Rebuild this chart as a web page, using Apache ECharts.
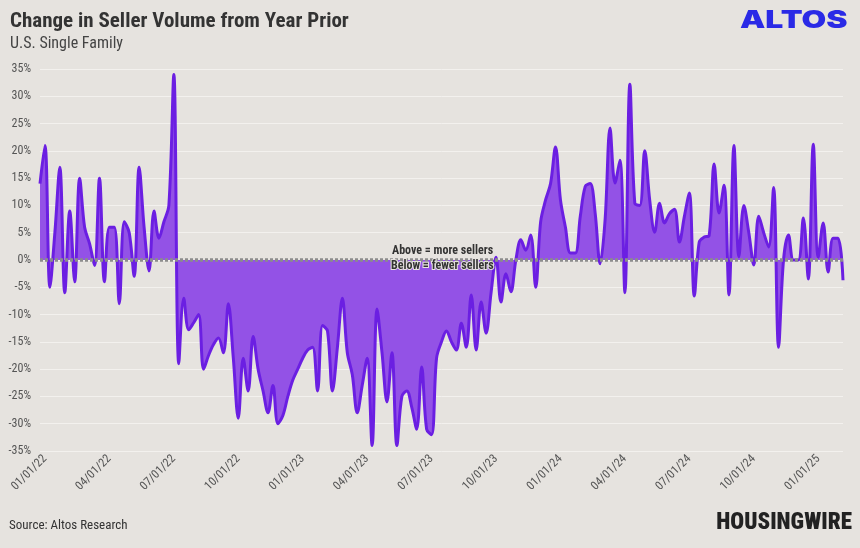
<!DOCTYPE html>
<html>
<head>
<meta charset="utf-8">
<script src="https://cdn.jsdelivr.net/npm/echarts@6/dist/echarts.min.js"></script>
<style>
html,body{margin:0;padding:0;background:#e6e3df;}
#c{width:860px;height:548px;}
</style>
</head>
<body>
<div id="c"></div>
<script>
// Weekly change in seller volume vs year prior (%), first week ending 12/25/21
const startDate = '2021-12-25';
const values = [
  14, 21, -5, 5, 17, -6, 9, -4, 15, 6,
  3, -1, 15, -4, 6, 6, -8, 7, 5, -3,
  17, 6, -2, 9, 4, 7, 10, 34, -19, -7,
  -12.8, -11.5, -10, -20, -17.5, -15.5, -14.3, -17, -8, -18,
  -29, -18, -24, -14, -20, -24, -28, -23, -30, -28.5,
  -25, -22, -20, -18, -16.5, -16, -24, -12, -13, -24,
  -16, -7, -17, -21, -28, -23, -18, -34, -9, -17,
  -26, -17, -34, -25, -24, -27, -31, -19.6, -31, -32,
  -18, -15, -13, -15, -16.5, -11.6, -16, -6.4, -16.5, -7.7,
  -13.4, -6, 0.5, -7.7, -2.5, -5.8, 0, 3.7, 1.8, 4.6,
  -5, 7, 11, 14, 20.7, 11, 6, 1.3, 1.3, 8,
  13.5, 14, 8.6, -0.7, 7.3, 24.2, 14.1, 18.3, -6, 32.2,
  10.4, 10, 20, 11, 5.1, 10.4, 6.8, 8.5, 9.3, 3.3,
  8, 12.3, -6.6, 3.3, 4.2, 4.5, 17.6, 8.6, 13.7, -6.4,
  21, 0.6, 10, 5, -0.9, 8, 5, 2.4, 13.3, -16,
  0, 4.6, 0, 0, 7.7, -3.5, 21.2, 0.5, 6.8, -2.2,
  4, 4, -3.7
];
const tickLabels = ['01/01/22','04/01/22','07/01/22','10/01/22','01/01/23','04/01/23','07/01/23','10/01/23','01/01/24','04/01/24','07/01/24','10/01/24','01/01/25'];
const firstTickIndex = 1; // week containing 01/01/22
const tickEvery = 13;     // weeks per quarter
const yTicks = [-35,-30,-25,-20,-15,-10,-5,0,5,10,15,20,25,30,35];

const titleText = 'Change in Seller Volume from Year Prior';
const subtitleText = 'U.S. Single Family';
const sourceText = 'Source: Altos Research';
const noteAbove = 'Above = more sellers';
const noteBelow = 'Below = fewer sellers';

// weekly category dates
const categories = [];
{
  const d0 = new Date(startDate + 'T00:00:00Z');
  for (let i = 0; i < values.length; i++) {
    const d = new Date(d0.getTime() + i * 7 * 86400000);
    const mm = String(d.getUTCMonth() + 1).padStart(2, '0');
    const dd = String(d.getUTCDate()).padStart(2, '0');
    const yy = String(d.getUTCFullYear()).slice(2);
    categories.push(mm + '/' + dd + '/' + yy);
  }
}
function tickPos(idx) {
  const k = (idx - firstTickIndex) / tickEvery;
  return (Number.isInteger(k) && k >= 0 && k < tickLabels.length) ? k : -1;
}

const FONT = "'Roboto Condensed','Liberation Sans Narrow','Roboto',sans-serif";
const chart = echarts.init(document.getElementById('c'), null, {renderer: 'canvas'});
chart.setOption({
  backgroundColor: '#e6e3df',
  animation: false,
  title: [
    {text: titleText, left: 5, top: 6, textStyle: {fontFamily: FONT, fontSize: 21, fontWeight: 'bold', color: '#333'}},
    {text: subtitleText, left: 5, top: 31, textStyle: {fontFamily: FONT, fontSize: 16, fontWeight: 'normal', color: '#444'}}
  ],
  grid: {left: 40, right: 17, top: 69, bottom: 97, containLabel: false},
  xAxis: {
    type: 'category',
    data: categories,
    boundaryGap: false,
    axisLine: {show: false},
    axisTick: {show: false},
    splitLine: {show: false},
    axisLabel: {
      rotate: 45,
      margin: 6,
      color: '#555',
      fontFamily: FONT,
      fontSize: 12,
      interval: function (idx) { return tickPos(idx) >= 0; },
      formatter: function (v, idx) { const k = tickPos(idx); return k >= 0 ? tickLabels[k] : ''; }
    }
  },
  yAxis: {
    type: 'value',
    min: yTicks[0],
    max: yTicks[yTicks.length - 1],
    interval: 5,
    axisLine: {show: false},
    axisTick: {show: false},
    axisLabel: {formatter: '{value}%', color: '#555', fontFamily: FONT, fontSize: 12, margin: 9},
    splitLine: {lineStyle: {color: '#f3f1ee', width: 1}}
  },
  series: [{
    type: 'line',
    data: values,
    smooth: 0.35,
    symbol: 'none',
    lineStyle: {color: '#6b1fe2', width: 3},
    areaStyle: {color: '#9352e6', opacity: 1, origin: 0},
    markLine: {
      silent: true,
      symbol: 'none',
      label: {show: false},
      lineStyle: {color: '#8c8c8c', type: [3, 2], width: 3.5},
      data: [{yAxis: 0}],
      z: 5
    }
  }],
  graphic: [
    {type: 'text', left: 740, top: 9, scaleX: 1.33, style: {text: 'ALTOS', fill: '#2a2ae6', font: "900 24px Inter, 'Open Sans', sans-serif"}},
    {type: 'text', left: 392, top: 245, z: 100, style: {text: noteAbove, fill: '#333', font: "bold 12px " + FONT}},
    {type: 'text', left: 390, top: 259, z: 100, style: {text: noteBelow, fill: '#333', font: "bold 12px " + FONT, stroke: '#e6e3df', lineWidth: 2}},
    {type: 'text', left: 9, top: 519, style: {text: sourceText, fill: '#333', font: "13px " + FONT}},
    {type: 'text', right: 8, top: 512, style: {text: 'HOUSINGWIRE', fill: '#222', font: "900 23px " + FONT}}
  ]
});
</script>
</body>
</html>
